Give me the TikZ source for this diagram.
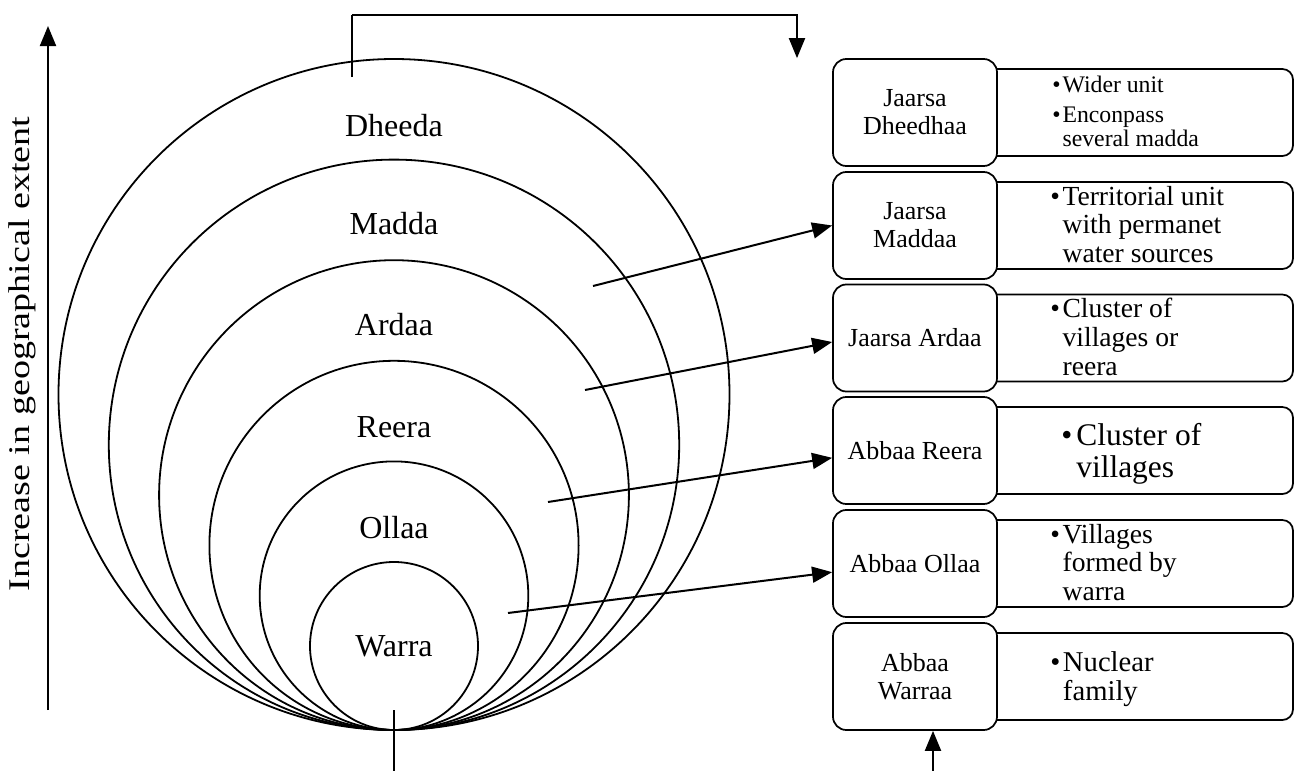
\documentclass[tikz,border=0pt]{standalone}
\usepackage{fontspec}
\setmainfont{Liberation Serif}
\usetikzlibrary{arrows.meta}
\begin{document}
\begin{tikzpicture}[x=0.75pt,y=-0.75pt,
 arr/.style={line width=1.5pt,-{Triangle[length=15pt,width=12pt]}},
 ring/.style={circle,draw,line width=1.35pt,inner sep=0pt},
 lbox/.style={draw,fill=white,rounded corners=10pt,line width=1.3pt,minimum width=123pt,minimum height=80.25pt,align=center,inner sep=2pt,font=\fontsize{19.5}{21}\selectfont},
 rbox/.style={draw,rounded corners=8pt,line width=1.3pt,minimum width=234.75pt,minimum height=65.25pt,inner sep=0pt},
 clab/.style={anchor=base,inner sep=0pt,font=\fontsize{24}{26}\selectfont},
 desc/.style={anchor=base west,inner sep=0pt},
 thinline/.style={line width=0.9pt}
]
\fill[white] (0,0) rectangle (1297,771);
\useasboundingbox (0,0) rectangle (1297,771);

% nested circles
\node[ring,minimum size=503.25pt] (cD) at (394,394.5) {};
\node[ring,minimum size=427.8pt] (cM) at (394,444.8) {};
\node[ring,minimum size=352.35pt] (cA) at (394,495.1) {};
\node[ring,minimum size=276.9pt] (cR) at (394,545.4) {};
\node[ring,minimum size=201.45pt] (cO) at (394,595.7) {};
\node[ring,minimum size=126pt] (cW) at (394,646) {};

\node[clab] (lD) at (394,136) {Dheeda};
\node[clab] (lM) at (394,234) {Madda};
\node[clab] (lA) at (394,335) {Ardaa};
\node[clab] (lR) at (394,437) {Reera};
\node[clab] (lO) at (394,538) {Ollaa};
\node[clab] (lW) at (394,656) {Warra};

% right description boxes
\node[rbox] (r1) at (1136.5,112.5) {};
\node[rbox] (r2) at (1136.5,225.5) {};
\node[rbox] (r3) at (1136.5,338) {};
\node[rbox] (r4) at (1136.5,450.5) {};
\node[rbox] (r5) at (1136.5,563.5) {};
\node[rbox] (r6) at (1136.5,676.5) {};

% left label boxes
\node[lbox] (b1) at (915,112.5) {Jaarsa\\Dheedhaa};
\node[lbox] (b2) at (915,225.5) {Jaarsa\\Maddaa};
\node[lbox] (b3) at (915,338) {Jaarsa Ardaa};
\node[lbox] (b4) at (915,450.5) {Abbaa Reera};
\node[lbox] (b5) at (915,563.5) {Abbaa Ollaa};
\node[lbox] (b6) at (915,676.5) {Abbaa\\Warraa};

% descriptions
\node[desc,font=\fontsize{17.8}{18}\selectfont] (t1) at (1052,92)
 {\begin{tabular}[t]{@{}l@{\hspace{1.5pt}}l@{}}\textbullet&Wider unit\\[4.5pt]\textbullet&Enconpass\\&several madda\end{tabular}};
\node[desc,font=\fontsize{20.7}{21.4}\selectfont] (t2) at (1050,205)
 {\begin{tabular}[t]{@{}l@{\hspace{2pt}}l@{}}\textbullet&Territorial unit\\&with permanet\\&water sources\end{tabular}};
\node[desc,font=\fontsize{20.7}{21.75}\selectfont] (t3) at (1050,317)
 {\begin{tabular}[t]{@{}l@{\hspace{2pt}}l@{}}\textbullet&Cluster of\\&villages or\\&reera\end{tabular}};
\node[desc,font=\fontsize{23.6}{24}\selectfont] (t4) at (1061,445)
 {\begin{tabular}[t]{@{}l@{\hspace{3pt}}l@{}}\textbullet&Cluster of\\&villages\end{tabular}};
\node[desc,font=\fontsize{20.7}{21.4}\selectfont] (t5) at (1050,543)
 {\begin{tabular}[t]{@{}l@{\hspace{2pt}}l@{}}\textbullet&Villages\\&formed by\\&warra\end{tabular}};
\node[desc,font=\fontsize{21.5}{21.75}\selectfont] (t6) at (1050,671)
 {\begin{tabular}[t]{@{}l@{\hspace{2pt}}l@{}}\textbullet&Nuclear\\&family\end{tabular}};

% arrows from rings to boxes
\coordinate (s1) at (593,286);
\coordinate (s2) at (585,390);
\coordinate (s3) at (548,502);
\coordinate (s4) at (508,613);
\draw[arr] (s1) -- (b2.west);
\draw[arr] (s2) -- ([yshift=-3pt]b3.west);
\draw[arr] (s3) -- ([yshift=-5.5pt]b4.west);
\draw[arr] (s4) -- ([yshift=-6.5pt]b5.west);

% top connector
\coordinate (tk0) at (352,77);
\coordinate (tk) at (352,15);
\coordinate (ta) at (797,15);
\draw[thinline] (tk0) -- (tk);
\draw[arr] (tk) -- (ta) -- (ta |- b1.north);

% bottom
\coordinate (bt0) at (394,710);
\coordinate (bt1) at (394,771);
\draw[thinline] (bt0) -- (bt1);
\coordinate (ba) at (933,771);
\draw[arr] (ba) -- (ba |- b6.south);

% axis
\coordinate (ax0) at (48,710);
\coordinate (ax1) at (48,26);
\draw[arr] (ax0) -- (ax1);
\node[rotate=90,inner sep=0pt,font=\fontsize{22.5}{24}\selectfont] (ax) at (22,354) {\scalebox{1.27}[1]{Increase in geographical extent}};
\end{tikzpicture}
\end{document}
